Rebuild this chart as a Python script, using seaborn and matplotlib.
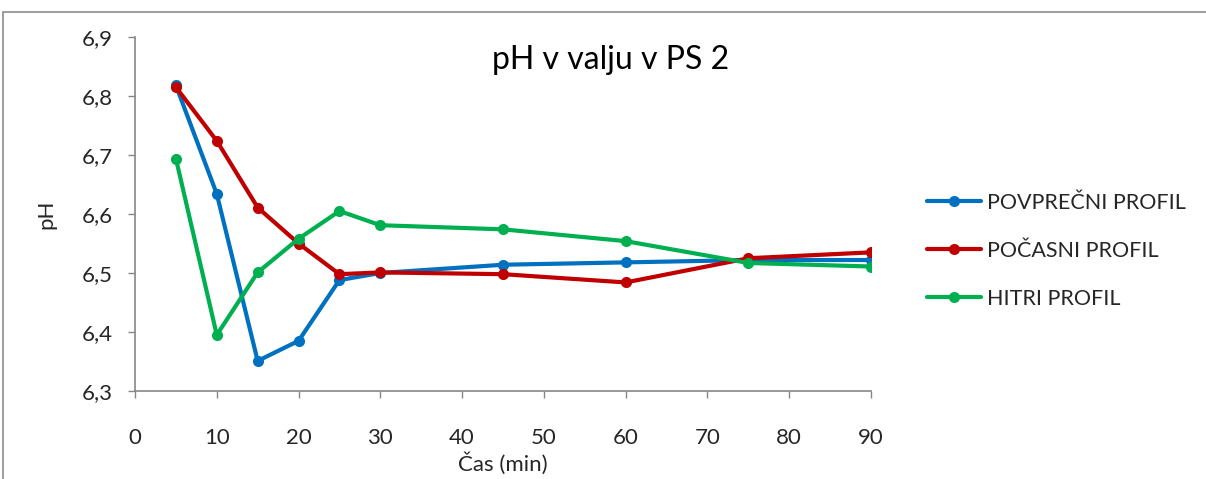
import matplotlib
matplotlib.use("Agg")
import matplotlib.pyplot as plt
import matplotlib.ticker as mticker
from matplotlib.patches import Rectangle
import seaborn as sns
import pandas as pd

time_min = [5, 10, 15, 20, 25, 30, 45, 60, 75, 90]
povprecni = [6.818, 6.634, 6.351, 6.385, 6.488, 6.500, 6.514, 6.518, 6.522, 6.522]
pocasni = [6.815, 6.724, 6.611, 6.550, 6.498, 6.501, 6.498, 6.484, 6.525, 6.535]
hitri = [6.694, 6.395, 6.501, 6.558, 6.605, 6.581, 6.574, 6.554, 6.517, 6.511]

series_names = ["POVPREČNI PROFIL", "POČASNI PROFIL", "HITRI PROFIL"]
colors = ["#0070C0", "#C00000", "#00B050"]
x_ticks = [0, 10, 20, 30, 40, 50, 60, 70, 80, 90]
y_ticks = [6.3, 6.4, 6.5, 6.6, 6.7, 6.8, 6.9]

rows = []
for name, vals in zip(series_names, [povprecni, pocasni, hitri]):
    for t, v in zip(time_min, vals):
        rows.append({"t": t, "pH": v, "serija": name})
df = pd.DataFrame(rows)

sns.set_theme(style="white")
plt.rcParams["font.family"] = ["Lato", "DejaVu Sans"]

fig = plt.figure(figsize=(12.06, 4.79), dpi=100)
ax = fig.add_axes([135/1206, 1-391/479, (871-135)/1206, (391-37)/479])

sns.lineplot(data=df, x="t", y="pH", hue="serija", hue_order=series_names,
             palette=colors, marker="o", markersize=8, markeredgewidth=0,
             linewidth=3, ax=ax, sort=False, estimator=None)

ax.set_xlim(0, 90)
ax.set_ylim(6.3, 6.9)
ax.set_xticks(x_ticks)
ax.set_yticks(y_ticks)
ax.yaxis.set_major_formatter(mticker.FuncFormatter(lambda v, p: f"{v:.1f}".replace(".", ",")))
ax.tick_params(axis="both", labelsize=16, colors="#262626", length=5, width=1,
               direction="out", bottom=True, left=True, color="#868686")
ax.tick_params(axis="x", pad=22)
ax.tick_params(axis="y", pad=11)
for s in ["top", "right"]:
    ax.spines[s].set_visible(False)
for s in ["left", "bottom"]:
    ax.spines[s].set_color("#868686")
    ax.spines[s].set_linewidth(1.2)

ax.set_xlabel("Čas (min)", fontsize=16, color="#262626", labelpad=3)
ax.set_ylabel("pH", fontsize=16, color="#262626", labelpad=18)
fig.text(611/1206, 1-60/479, "pH v valju v PS 2", fontsize=23, color="#000000",
         ha="center", va="center")

leg = ax.legend(loc="center left", bbox_to_anchor=(1.05, 0.396), frameon=False,
                fontsize=15.5, handlelength=2.5, labelspacing=1.3, handletextpad=0.3)
for h in leg.get_lines():
    h.set_linewidth(3)
    h.set_markersize(8)

fig.patches.append(Rectangle((3/1206, -0.05), 1.2, 1-12/479+0.05, transform=fig.transFigure,
                             fill=False, edgecolor="#8c8c8c", linewidth=1.2))

fig.savefig("out.png", dpi=100)
